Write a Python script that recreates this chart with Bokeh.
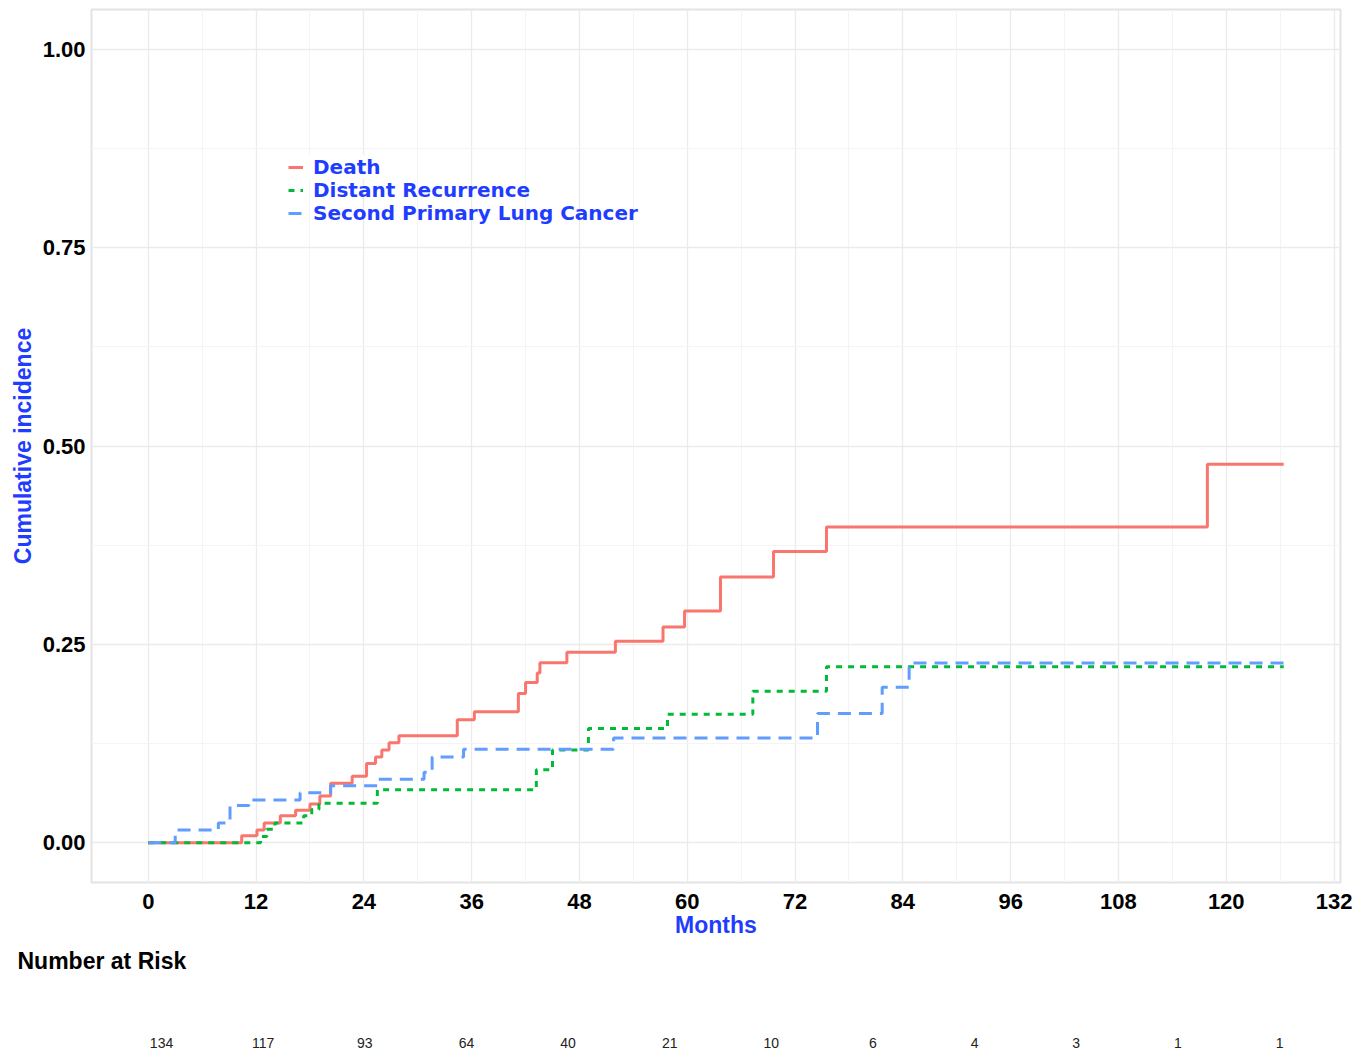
from bokeh.plotting import figure
from bokeh.layouts import column
from bokeh.models import Range1d, FixedTicker, NumeralTickFormatter, Legend, LegendItem
from bokeh.embed import file_html
from bokeh.resources import INLINE
from bokeh.core.properties import value

# Cumulative incidence step functions (months, incidence)
followup_end = 126.4

death_months = [0, 10.4, 12.1, 12.9, 14.7, 16.4, 18.0, 19.1, 20.3, 22.7, 24.3, 25.3, 26.0, 26.8,
                27.9, 34.4, 36.3, 41.2, 42.0, 43.3, 43.6, 46.6, 52.0, 57.3, 59.7, 63.7, 69.6, 75.5, 117.9]
death_inc = [0, 0.009, 0.016, 0.025, 0.034, 0.041, 0.049, 0.059, 0.075, 0.084, 0.100, 0.108, 0.117, 0.126,
             0.135, 0.155, 0.165, 0.188, 0.202, 0.214, 0.227, 0.240, 0.254, 0.272, 0.292, 0.335, 0.367, 0.398, 0.477]

distant_months = [0, 12.5, 13.2, 14.1, 17.3, 18.2, 19.0, 25.5, 43.2, 45.0, 49.0, 57.8, 67.3, 75.5]
distant_inc = [0, 0.008, 0.017, 0.025, 0.034, 0.042, 0.050, 0.067, 0.092, 0.117, 0.144, 0.162, 0.191, 0.222]

spl_months = [0, 3.0, 7.8, 9.1, 11.2, 16.9, 20.3, 25.6, 30.7, 31.6, 35.1, 51.8, 74.5, 81.7, 84.7]
spl_inc = [0, 0.016, 0.025, 0.047, 0.054, 0.063, 0.072, 0.080, 0.089, 0.108, 0.118, 0.132, 0.163, 0.196, 0.2265]

series_names = ["Death", "Distant Recurrence", "Second Primary Lung Cancer"]
series_colors = ["#F8766D", "#00BA38", "#619CFF"]

x_ticks = list(range(0, 133, 12))
y_ticks = [0.0, 0.25, 0.5, 0.75, 1.0]

risk_counts = [134, 117, 93, 64, 40, 21, 10, 6, 4, 3, 1, 1]

TITLE_BLUE = "#1f3dff"
FONT = "Liberation Sans"
LEGEND_FONT = "DejaVu Sans"


def extend(months, inc):
    return months + [followup_end], inc + [inc[-1]]


p = figure(width=1371, height=940, output_backend="svg", toolbar_location=None,
           x_range=Range1d(-6.32, 132.72), y_range=Range1d(-0.05, 1.05),
           min_border_left=91, min_border_right=31, min_border_top=9, min_border_bottom=56)
p.background_fill_color = "white"
p.border_fill_color = "white"
p.outline_line_color = "#e3e3e3"
p.outline_line_width = 2

p.xaxis.ticker = FixedTicker(ticks=x_ticks, minor_ticks=[t + 6 for t in x_ticks[:-1]])
p.yaxis.ticker = FixedTicker(ticks=y_ticks, minor_ticks=[0.125, 0.375, 0.625, 0.875])
p.yaxis.formatter = NumeralTickFormatter(format="0.00")

for ax in (p.xaxis, p.yaxis):
    ax.axis_line_color = None
    ax.major_tick_line_color = None
    ax.minor_tick_line_color = None
    ax.major_label_text_font = FONT
    ax.major_label_text_font_size = "22px"
    ax.major_label_text_font_style = "bold"
    ax.major_label_text_color = "black"
    ax.axis_label_text_font = FONT
    ax.axis_label_text_font_size = "23px"
    ax.axis_label_text_font_style = "bold"
    ax.axis_label_text_color = TITLE_BLUE

p.xaxis.axis_label = "Months"
p.yaxis.axis_label = "Cumulative incidence"
p.xaxis.major_label_standoff = 5
p.xaxis.axis_label_standoff = 0
p.yaxis.major_label_standoff = 0
p.yaxis.axis_label_standoff = 4

for g in (p.xgrid, p.ygrid):
    g.grid_line_color = "#ebebeb"
    g.grid_line_width = 1.3
    g.minor_grid_line_color = "#f4f4f4"
    g.minor_grid_line_width = 1.0

x, y = extend(death_months, death_inc)
r_death = p.step(x, y, mode="after", line_color=series_colors[0], line_width=3)
x, y = extend(distant_months, distant_inc)
r_dist = p.step(x, y, mode="after", line_color=series_colors[1], line_width=3, line_dash="6 6")
x, y = extend(spl_months, spl_inc)
r_spl = p.step(x, y, mode="after", line_color=series_colors[2], line_width=3, line_dash="13 8")

# Tightly stacked legend rows, one key per entry; the first carries the white backing
legend_rows = [(series_names[0], r_death, 703, 1.0),
               (series_names[1], r_dist, 680, 0.0),
               (series_names[2], r_spl, 657, 0.0)]
for label, renderer, row_y, bg_alpha in legend_rows:
    lg = Legend(items=[LegendItem(label=label, renderers=[renderer])], location=(197, row_y))
    lg.label_text_font = LEGEND_FONT
    lg.label_text_font_size = "20px"
    lg.label_text_font_style = "bold"
    lg.label_text_color = TITLE_BLUE
    lg.glyph_width = 15
    lg.glyph_height = 22
    lg.label_height = 22
    lg.label_standoff = 10
    lg.padding = 4
    lg.margin = 0
    lg.border_line_color = None
    lg.background_fill_color = "white"
    lg.background_fill_alpha = bg_alpha
    p.add_layout(lg, "center")

# Number-at-risk table, one column per 12-month interval
risk_index = list(range(len(risk_counts)))
rt = figure(width=1371, height=113, output_backend="svg", toolbar_location=None,
            x_range=Range1d(-0.689, 11.6), y_range=Range1d(-0.5, 3.0),
            min_border_left=0, min_border_right=0, min_border_top=0, min_border_bottom=0,
            title="Number at Risk")
rt.title.text_font = FONT
rt.title.text_font_size = "23px"
rt.title.text_font_style = "bold"
rt.title.text_color = "black"
rt.title.align = "left"
rt.title.offset = -74
rt.axis.visible = False
rt.grid.visible = False
rt.outline_line_color = None
rt.text(x=risk_index, y=[0] * len(risk_counts), text=[str(c) for c in risk_counts],
        text_font=value(FONT), text_font_size="14px", text_color="#222222",
        text_align="center", text_baseline="middle")

layout = column(p, rt, spacing=0)
open("out.html", "w").write(file_html(layout, INLINE))
